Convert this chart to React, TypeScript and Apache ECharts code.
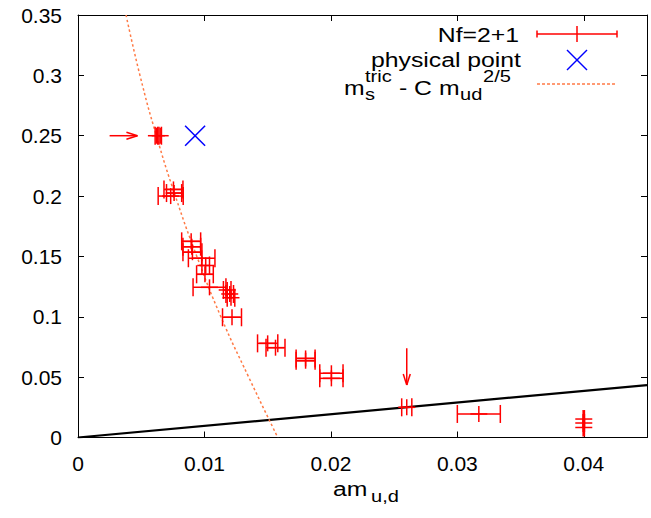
import React, { useEffect, useRef } from 'react';
import * as echarts from 'echarts';

// ---- data ----
// Nf=2+1 points: x (am_ud), horizontal error, y (am_s)
const nfX = [0.0062, 0.0065, 0.00733, 0.00755, 0.0076, 0.00895, 0.009, 0.00905, 0.00978, 0.0101, 0.01004, 0.0104, 0.0118, 0.012, 0.0121, 0.01218, 0.015, 0.01562, 0.018, 0.018, 0.02004, 0.02004, 0.026, 0.0317, 0.04, 0.04, 0.04];
const nfXErr = [0.0001, 0.0001, 0.00099, 0.00075, 0.0006, 0.00075, 0.0007, 0.00075, 0.00105, 0.0003, 0.00066, 0.0013, 0.0003, 0.0003, 0.0003, 0.00075, 0.0008, 0.00075, 0.00075, 0.00075, 0.00092, 0.00092, 0.0004, 0.0017, 0.00005, 0.00005, 0.00005];
const nfY = [0.25, 0.25, 0.2, 0.2055, 0.2025, 0.1625, 0.158, 0.1535, 0.1485, 0.1425, 0.1352, 0.1244, 0.1222, 0.1189, 0.1158, 0.0996, 0.078, 0.0744, 0.0636, 0.0655, 0.0532, 0.049, 0.025, 0.0195, 0.0153, 0.012, 0.0083];

// physical point
const physX = [0.00926];
const physY = [0.25];

// fit curve m_s^tric - C m_ud^(2/5)
const fitX = [0.0038, 0.0049, 0.0062, 0.0077, 0.0094, 0.0113, 0.0135, 0.0158];
const fitY = [0.35, 0.3, 0.25, 0.2, 0.15, 0.1, 0.05, 0.0];

// straight black line
const lineX = [0, 0.045];
const lineY = [0, 0.0434];

// arrows (from -> to)
const arrowX1 = [0.0025, 0.026];
const arrowY1 = [0.25, 0.074];
const arrowX2 = [0.0047, 0.026];
const arrowY2 = [0.25, 0.0435];

// axes
const xMin = 0, xMax = 0.045, xStep = 0.01;
const yMin = 0, yMax = 0.35, yStep = 0.05;

const FONT = '"Liberation Sans", Arial, sans-serif';
const RED = '#ff0000';
const BLUE = '#0000ff';
const ORANGE = '#ff7a45';
const SX = 1.18;

function ln(x1: number, y1: number, x2: number, y2: number, stroke: string, w: number, dash?: number[]) {
  return { type: 'line', shape: { x1, y1, x2, y2 }, style: { stroke, lineWidth: w, lineDash: dash } };
}

function txt(text: string, x: number, y: number, size: number, align: string) {
  return {
    type: 'text', x, y, scaleX: SX, scaleY: 1,
    style: { text, fill: '#000', fontSize: size, fontFamily: FONT, align, verticalAlign: 'middle' },
  };
}

export default function App() {
  const ref = useRef<HTMLDivElement>(null);
  useEffect(() => {
    if (!ref.current) return;
    const chart = echarts.init(ref.current, undefined, { renderer: 'svg' });

    const axisCommon = {
      type: 'value',
      axisLine: { show: true, onZero: false, lineStyle: { color: '#000', width: 1 } },
      axisTick: { show: true, inside: true, length: 6, lineStyle: { color: '#000', width: 1 } },
      splitLine: { show: false },
    };

    const option: any = {
      animation: false,
      backgroundColor: '#fff',
      grid: { left: 78, top: 15, width: 569, height: 422.5, containLabel: false },
      xAxis: [
        {
          ...axisCommon, min: xMin, max: xMax, interval: xStep, position: 'bottom',
          axisLabel: {
            show: true, margin: 15, fontSize: 21, color: '#000', fontFamily: FONT, showMaxLabel: false,
            formatter: (v: number) => (v === 0 ? '0' : v.toFixed(2)),
          },
        },
        {
          ...axisCommon, min: xMin, max: xMax, interval: xStep, position: 'top',
          axisLabel: { show: false },
        },
      ],
      yAxis: [
        {
          ...axisCommon, min: yMin, max: yMax, interval: yStep, position: 'left',
          axisLabel: {
            show: true, margin: 16, fontSize: 21, color: '#000', fontFamily: FONT,
            formatter: (v: number) => String(parseFloat(v.toFixed(2))),
          },
        },
        {
          ...axisCommon, min: yMin, max: yMax, interval: yStep, position: 'right',
          axisLabel: { show: false },
        },
      ],
      series: [
        {
          type: 'line', name: 'line', data: lineX.map((x, i) => [x, lineY[i]]),
          symbol: 'none', lineStyle: { color: '#000', width: 2.2 }, z: 2,
        },
        {
          type: 'line', name: 'fit', data: fitX.map((x, i) => [x, fitY[i]]),
          symbol: 'none', smooth: true, clip: true,
          lineStyle: { color: ORANGE, width: 1.5, type: [2.5, 2.5] }, z: 3,
        },
        {
          type: 'custom', name: 'Nf=2+1', z: 4,
          data: nfX.map((x, i) => [x, nfXErr[i], nfY[i]]),
          encode: { x: 0, y: 2 },
          renderItem: (params: any, api: any) => {
            const x = api.value(0), xe = api.value(1), y = api.value(2);
            const c = api.coord([x, y]);
            const l = api.coord([x - xe, y]);
            const r = api.coord([x + xe, y]);
            const w = 1.5;
            return {
              type: 'group',
              children: [
                ln(l[0], c[1], r[0], c[1], RED, w),
                ln(l[0], c[1] - 9, l[0], c[1] + 9, RED, w),
                ln(r[0], c[1] - 9, r[0], c[1] + 9, RED, w),
                ln(c[0] - 8.5, c[1], c[0] + 8.5, c[1], RED, w),
                ln(c[0], c[1] - 8, c[0], c[1] + 8, RED, w),
              ],
            };
          },
        },
        {
          type: 'custom', name: 'physical point', z: 5,
          data: physX.map((x, i) => [x, physY[i]]),
          encode: { x: 0, y: 1 },
          renderItem: (params: any, api: any) => {
            const c = api.coord([api.value(0), api.value(1)]);
            const s = 10;
            return {
              type: 'group',
              children: [
                ln(c[0] - s, c[1] - s, c[0] + s, c[1] + s, BLUE, 1.5),
                ln(c[0] - s, c[1] + s, c[0] + s, c[1] - s, BLUE, 1.5),
              ],
            };
          },
        },
        {
          type: 'custom', name: 'arrows', z: 5,
          data: arrowX1.map((x, i) => [x, arrowY1[i], arrowX2[i], arrowY2[i]]),
          encode: { x: [0, 2], y: [1, 3] },
          renderItem: (params: any, api: any) => {
            const a = api.coord([api.value(0), api.value(1)]);
            const b = api.coord([api.value(2), api.value(3)]);
            const dx = b[0] - a[0], dy = b[1] - a[1];
            const len = Math.sqrt(dx * dx + dy * dy) || 1;
            const ux = dx / len, uy = dy / len;
            const hl = 11, hw = 3.5;
            const bx = b[0] - ux * hl, by = b[1] - uy * hl;
            const px = -uy, py = ux;
            return {
              type: 'group',
              children: [
                ln(a[0], a[1], b[0], b[1], RED, 1.5),
                ln(bx + px * hw, by + py * hw, b[0], b[1], RED, 1.5),
                ln(bx - px * hw, by - py * hw, b[0], b[1], RED, 1.5),
              ],
            };
          },
        },
      ],
      graphic: [
        // legend
        txt('Nf=2+1', 519, 34.5, 21, 'right'),
        ln(537, 34, 617, 34, RED, 1.5),
        ln(537, 30.5, 537, 37.5, RED, 1.5),
        ln(617, 30.5, 617, 37.5, RED, 1.5),
        ln(577, 26, 577, 42, RED, 1.5),
        txt('physical point', 521, 59.5, 21, 'right'),
        ln(567, 50, 587, 70, BLUE, 1.5),
        ln(567, 70, 587, 50, BLUE, 1.5),
        txt('m', 344, 87.7, 21, 'left'),
        txt('s', 365, 94.1, 17, 'left'),
        txt('tric', 365, 75.8, 17, 'left'),
        txt('-', 399, 87.7, 21, 'left'),
        txt('C', 414, 87.7, 21, 'left'),
        txt('m', 439, 87.7, 21, 'left'),
        txt('ud', 460, 94.1, 17, 'left'),
        txt('2/5', 483, 75.8, 17, 'left'),
        ln(537, 84, 617, 84, ORANGE, 1.5, [3, 2]),
        // x-axis title
        txt('am', 333, 489, 21, 'left'),
        txt('u,d', 371, 496, 17, 'left'),
      ],
    };
    chart.setOption(option);
    return () => chart.dispose();
  }, []);
  return (
    <div
      ref={ref}
      style={{ position: 'absolute', left: 0, top: 0, width: 651, height: 518, background: '#fff' }}
    />
  );
}
